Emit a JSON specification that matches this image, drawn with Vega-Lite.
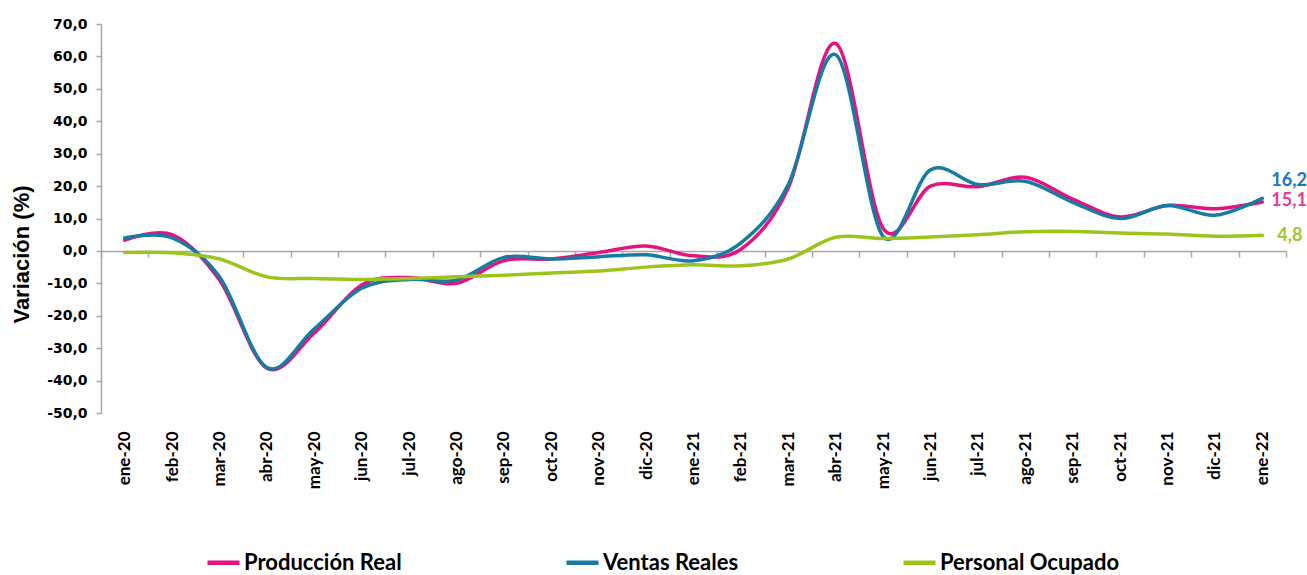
{
  "$schema": "https://vega.github.io/schema/vega-lite/v6.json",
  "width": 1185,
  "height": 389,
  "autosize": "none",
  "padding": {"left": 101, "top": 24, "right": 21, "bottom": 162},
  "background": "white",
  "config": {
    "view": {"stroke": null},
    "locale": {"number": {"decimal": ",", "thousands": ".", "grouping": [3], "currency": ["", " €"], "minus": "-"}}
  },
  "data": {
    "values": [
      {"mes": "ene-20", "serie": "Producción Real", "valor": 3.3},
      {"mes": "feb-20", "serie": "Producción Real", "valor": 5.0},
      {"mes": "mar-20", "serie": "Producción Real", "valor": -9.0},
      {"mes": "abr-20", "serie": "Producción Real", "valor": -36.2},
      {"mes": "may-20", "serie": "Producción Real", "valor": -25.3},
      {"mes": "jun-20", "serie": "Producción Real", "valor": -10.5},
      {"mes": "jul-20", "serie": "Producción Real", "valor": -8.2},
      {"mes": "ago-20", "serie": "Producción Real", "valor": -10.0},
      {"mes": "sep-20", "serie": "Producción Real", "valor": -3.0},
      {"mes": "oct-20", "serie": "Producción Real", "valor": -2.5},
      {"mes": "nov-20", "serie": "Producción Real", "valor": -0.5},
      {"mes": "dic-20", "serie": "Producción Real", "valor": 1.5},
      {"mes": "ene-21", "serie": "Producción Real", "valor": -1.5},
      {"mes": "feb-21", "serie": "Producción Real", "valor": 0.5},
      {"mes": "mar-21", "serie": "Producción Real", "valor": 19.5},
      {"mes": "abr-21", "serie": "Producción Real", "valor": 64.0},
      {"mes": "may-21", "serie": "Producción Real", "valor": 7.0},
      {"mes": "jun-21", "serie": "Producción Real", "valor": 20.0},
      {"mes": "jul-21", "serie": "Producción Real", "valor": 19.8},
      {"mes": "ago-21", "serie": "Producción Real", "valor": 22.7},
      {"mes": "sep-21", "serie": "Producción Real", "valor": 16.0},
      {"mes": "oct-21", "serie": "Producción Real", "valor": 10.5},
      {"mes": "nov-21", "serie": "Producción Real", "valor": 14.0},
      {"mes": "dic-21", "serie": "Producción Real", "valor": 13.0},
      {"mes": "ene-22", "serie": "Producción Real", "valor": 15.1},
      {"mes": "ene-20", "serie": "Ventas Reales", "valor": 4.0},
      {"mes": "feb-20", "serie": "Ventas Reales", "valor": 4.0},
      {"mes": "mar-20", "serie": "Ventas Reales", "valor": -8.0},
      {"mes": "abr-20", "serie": "Ventas Reales", "valor": -36.0},
      {"mes": "may-20", "serie": "Ventas Reales", "valor": -24.0},
      {"mes": "jun-20", "serie": "Ventas Reales", "valor": -11.5},
      {"mes": "jul-20", "serie": "Ventas Reales", "valor": -8.8},
      {"mes": "ago-20", "serie": "Ventas Reales", "valor": -9.0},
      {"mes": "sep-20", "serie": "Ventas Reales", "valor": -2.0},
      {"mes": "oct-20", "serie": "Ventas Reales", "valor": -2.5},
      {"mes": "nov-20", "serie": "Ventas Reales", "valor": -1.8},
      {"mes": "dic-20", "serie": "Ventas Reales", "valor": -1.2},
      {"mes": "ene-21", "serie": "Ventas Reales", "valor": -3.0},
      {"mes": "feb-21", "serie": "Ventas Reales", "valor": 2.5},
      {"mes": "mar-21", "serie": "Ventas Reales", "valor": 20.5},
      {"mes": "abr-21", "serie": "Ventas Reales", "valor": 60.5},
      {"mes": "may-21", "serie": "Ventas Reales", "valor": 4.5},
      {"mes": "jun-21", "serie": "Ventas Reales", "valor": 25.0},
      {"mes": "jul-21", "serie": "Ventas Reales", "valor": 20.5},
      {"mes": "ago-21", "serie": "Ventas Reales", "valor": 21.5},
      {"mes": "sep-21", "serie": "Ventas Reales", "valor": 15.0},
      {"mes": "oct-21", "serie": "Ventas Reales", "valor": 10.0},
      {"mes": "nov-21", "serie": "Ventas Reales", "valor": 14.0},
      {"mes": "dic-21", "serie": "Ventas Reales", "valor": 11.0},
      {"mes": "ene-22", "serie": "Ventas Reales", "valor": 16.2},
      {"mes": "ene-20", "serie": "Personal Ocupado", "valor": -0.5},
      {"mes": "feb-20", "serie": "Personal Ocupado", "valor": -0.6},
      {"mes": "mar-20", "serie": "Personal Ocupado", "valor": -2.5},
      {"mes": "abr-20", "serie": "Personal Ocupado", "valor": -8.0},
      {"mes": "may-20", "serie": "Personal Ocupado", "valor": -8.5},
      {"mes": "jun-20", "serie": "Personal Ocupado", "valor": -8.8},
      {"mes": "jul-20", "serie": "Personal Ocupado", "valor": -8.5},
      {"mes": "ago-20", "serie": "Personal Ocupado", "valor": -8.0},
      {"mes": "sep-20", "serie": "Personal Ocupado", "valor": -7.5},
      {"mes": "oct-20", "serie": "Personal Ocupado", "valor": -6.8},
      {"mes": "nov-20", "serie": "Personal Ocupado", "valor": -6.2},
      {"mes": "dic-20", "serie": "Personal Ocupado", "valor": -5.0},
      {"mes": "ene-21", "serie": "Personal Ocupado", "valor": -4.3},
      {"mes": "feb-21", "serie": "Personal Ocupado", "valor": -4.6},
      {"mes": "mar-21", "serie": "Personal Ocupado", "valor": -2.5},
      {"mes": "abr-21", "serie": "Personal Ocupado", "valor": 4.2},
      {"mes": "may-21", "serie": "Personal Ocupado", "valor": 3.8},
      {"mes": "jun-21", "serie": "Personal Ocupado", "valor": 4.3},
      {"mes": "jul-21", "serie": "Personal Ocupado", "valor": 5.0},
      {"mes": "ago-21", "serie": "Personal Ocupado", "valor": 5.9},
      {"mes": "sep-21", "serie": "Personal Ocupado", "valor": 6.0},
      {"mes": "oct-21", "serie": "Personal Ocupado", "valor": 5.5},
      {"mes": "nov-21", "serie": "Personal Ocupado", "valor": 5.2},
      {"mes": "dic-21", "serie": "Personal Ocupado", "valor": 4.5},
      {"mes": "ene-22", "serie": "Personal Ocupado", "valor": 4.8}
    ]
  },
  "encoding": {
    "x": {
      "field": "mes",
      "type": "ordinal",
      "bandPosition": 0.5,
      "sort": null,
      "scale": {
        "type": "band",
        "paddingInner": 0,
        "paddingOuter": 0,
        "domain": ["ene-20","feb-20","mar-20","abr-20","may-20","jun-20","jul-20","ago-20","sep-20","oct-20","nov-20","dic-20","ene-21","feb-21","mar-21","abr-21","may-21","jun-21","jul-21","ago-21","sep-21","oct-21","nov-21","dic-21","ene-22"]
      },
      "axis": {
        "orient": "bottom",
        "offset": -162,
        "title": null,
        "domainColor": "#a6a6a6",
        "domainWidth": 1.5,
        "tickColor": "#a6a6a6",
        "tickWidth": 1.5,
        "tickSize": 6,
        "tickBand": "extent",
        "labelAngle": -90,
        "labelAlign": "right",
        "labelBaseline": "middle",
        "labelPadding": 174,
        "labelFont": "Lato",
        "labelFontWeight": "bold",
        "labelFontSize": 17,
        "labelColor": "#000000",
        "labelOverlap": false,
        "labelFlush": false
      }
    },
    "y": {
      "field": "valor",
      "type": "quantitative",
      "scale": {"domain": [-50, 70], "nice": false, "zero": false},
      "axis": {
        "title": "Variación (%)",
        "titleFont": "Liberation Sans",
        "titleFontWeight": "bold",
        "titleFontSize": 22,
        "titleColor": "#000000",
        "titlePadding": 13,
        "titleY": 230,
        "values": [-50, -40, -30, -20, -10, 0, 10, 20, 30, 40, 50, 60, 70],
        "format": ".1f",
        "grid": false,
        "domainColor": "#a6a6a6",
        "domainWidth": 1.5,
        "tickColor": "#a6a6a6",
        "tickWidth": 1.5,
        "tickSize": 5,
        "labelPadding": 9,
        "labelFont": "DejaVu Sans",
        "labelFontWeight": "bold",
        "labelFontSize": 14,
        "labelColor": "#000000"
      }
    }
  },
  "layer": [
    {
      "mark": {"type": "line", "interpolate": "cardinal", "strokeWidth": 3.5, "strokeCap": "round"},
      "encoding": {
        "color": {
          "field": "serie",
          "type": "nominal",
          "sort": ["Producción Real", "Ventas Reales", "Personal Ocupado"],
          "scale": {
            "domain": ["Producción Real", "Ventas Reales", "Personal Ocupado"],
            "range": ["#e6127f", "#167ca3", "#9dc41d"]
          },
          "legend": {
            "title": null,
            "orient": "none",
            "legendX": 104,
            "legendY": 520,
            "direction": "horizontal",
            "columnPadding": 155,
            "symbolType": "stroke",
            "symbolSize": 1024,
            "symbolStrokeWidth": 4.5,
            "labelFont": "Lato",
            "labelFontWeight": "bold",
            "labelFontSize": 22,
            "labelColor": "#000000",
            "labelOffset": 2,
            "labelLimit": 400
          }
        }
      }
    },
    {
      "transform": [{"filter": "datum.mes === 'ene-22' && datum.serie === 'Ventas Reales'"}],
      "mark": {"type": "text", "align": "left", "baseline": "middle", "dx": 9, "dy": -17, "font": "Lato", "fontWeight": "bold", "fontSize": 18, "color": "#1b74c4"},
      "encoding": {"text": {"field": "valor", "type": "quantitative", "format": ".1f"}}
    },
    {
      "transform": [{"filter": "datum.mes === 'ene-22' && datum.serie === 'Producción Real'"}],
      "mark": {"type": "text", "align": "left", "baseline": "middle", "dx": 9, "dy": -1, "font": "Lato", "fontWeight": "bold", "fontSize": 18, "color": "#ec3a92"},
      "encoding": {"text": {"field": "valor", "type": "quantitative", "format": ".1f"}}
    },
    {
      "transform": [{"filter": "datum.mes === 'ene-22' && datum.serie === 'Personal Ocupado'"}],
      "mark": {"type": "text", "align": "left", "baseline": "middle", "dx": 15, "dy": 1, "font": "Lato", "fontWeight": "bold", "fontSize": 18, "color": "#9dc82e"},
      "encoding": {"text": {"field": "valor", "type": "quantitative", "format": ".1f"}}
    }
  ]
}
